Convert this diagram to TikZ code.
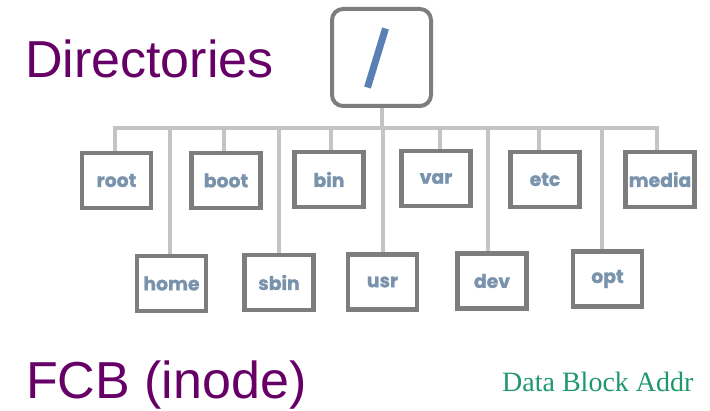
\documentclass[tikz,border=0pt]{standalone}
\usepackage{fontspec}
\usetikzlibrary{calc}
\setmainfont{Liberation Sans}
\newfontfamily\headfont{Liberation Sans}
\newfontfamily\serfont{Liberation Serif}
\newfontfamily\lblfont{Poppins}[BoldFeatures={FakeBold=1.2}]
\definecolor{boxgray}{HTML}{7D7D7D}
\definecolor{linkgray}{HTML}{C4C4C4}
\definecolor{lblblue}{HTML}{7A93AD}
\definecolor{slashblue}{HTML}{5A7FB5}
\definecolor{headpurple}{HTML}{660066}
\definecolor{addrgreen}{HTML}{1F986B}
\begin{document}
\begin{tikzpicture}[x=1pt,y=-1pt,
  dirbox/.style={draw=boxgray, line width=4.5pt, fill=white, minimum width=69pt,
    minimum height=55pt, inner sep=0pt, text=lblblue,
    font=\lblfont\bfseries\fontsize{18.8}{18.8}\selectfont},
  rootbox/.style={draw=boxgray, line width=4pt, rounded corners=11pt, fill=white,
    minimum width=99pt, minimum height=97pt, inner sep=0pt},
  link/.style={draw=linkgray, line width=4pt},
  heading/.style={text=headpurple, inner sep=0pt, anchor=base west}]
\useasboundingbox (0,0) rectangle (710,411);

% horizontal bar of the tree
\coordinate (barL) at (113,128);
\coordinate (barR) at (659,128);
\draw[link] (barL) -- (barR);

% top directory box with the slash
\node[rootbox] (top) at (381.5,57.5) {};
\draw[slashblue, line width=7pt] ($(top.center)+(-14,30)$) -- ($(top.center)+(4,-29)$);
\draw[link] (top.south) -- (top.south |- barL);

% first row
\node[dirbox] (root)  at (116.5,180.5) {root};
\node[dirbox] (boot)  at (226,180.5)   {boot};
\node[dirbox] (bin)   at (329,179.5)   {bin};
\node[dirbox] (var)   at (436,178.5)   {var};
\node[dirbox] (etc)   at (545,179.5)   {etc};
\node[dirbox] (media) at (660,179.5)   {media};

% second row
\node[dirbox] (home) at (171.5,283.5) {home};
\node[dirbox] (sbin) at (279,282.5)   {sbin};
\node[dirbox] (usr)  at (382.5,282)   {usr};
\node[dirbox] (dev)  at (492,281)     {dev};
\node[dirbox] (opt)  at (607.5,279)   {opt};

% drops from the bar to each box
\foreach \n/\x in {root/115, boot/224, bin/331, var/440, etc/539, media/657,
                   home/170, sbin/279, usr/383, dev/488, opt/602}{
  \coordinate (d\n) at (\x,128);
  \draw[link] (d\n) -- (d\n |- \n.north);
}

% headings
\node[heading, font=\headfont\fontsize{52}{52}\selectfont] (dirs) at (25,78) {Directories};
\node[heading, font=\headfont\fontsize{52}{52}\selectfont] (fcb) at (26,399) {FCB (inode)};
\node[anchor=base west, inner sep=0pt, text=addrgreen,
      font=\serfont\fontsize{28}{28}\selectfont] (addr) at (502,392) {Data Block Addr};
\end{tikzpicture}
\end{document}
